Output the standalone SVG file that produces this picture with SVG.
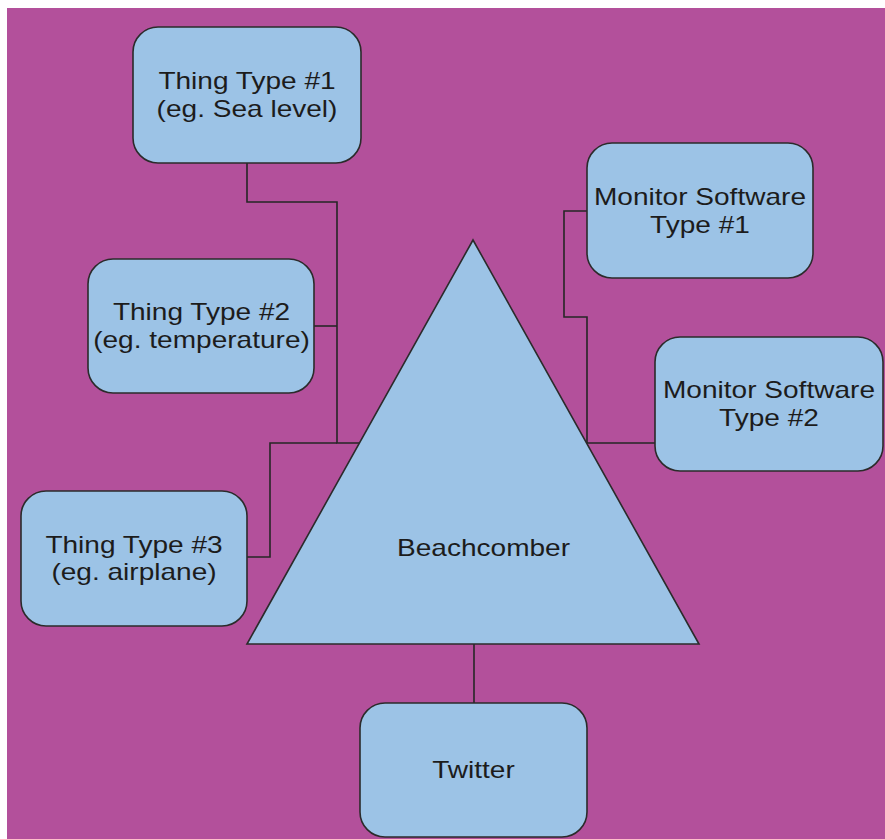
<svg xmlns="http://www.w3.org/2000/svg" width="885" height="839" viewBox="0 0 885 839">
  <style>
    .box { fill: #9cc3e6; stroke: #2b2b2b; stroke-width: 1.6; }
    .lbl { font-family: "Liberation Sans", Arial, sans-serif; font-size: 23px; fill: #1c1c1c; text-anchor: middle; }
    .conn { fill: none; stroke: #262626; stroke-width: 1.6; }
  </style>
  <rect x="0" y="0" width="885" height="839" fill="#ffffff"/>
  <rect x="7" y="8" width="878" height="831" fill="#b3509b"/>

  <g id="connectors">
    <polyline class="conn" points="247,163 247,202 337,202 337,443 360,443"/>
    <polyline class="conn" points="314,326 337,326"/>
    <polyline class="conn" points="247,557 270,557 270,443 337,443"/>
    <polyline class="conn" points="587,211 564,211 564,317 587,317 587,443 655,443"/>
    <polyline class="conn" points="474,644 474,703"/>
  </g>

  <g id="beachcomber">
    <polygon class="box" points="473,240 699,644 247,644"/>
    <text class="lbl" transform="translate(483.5,556) scale(1.22,1)" x="0" y="0">Beachcomber</text>
  </g>

  <g id="thing1">
    <rect class="box" x="133" y="27" width="228" height="136" rx="25" ry="25"/>
    <text class="lbl" transform="translate(247,89) scale(1.22,1)"><tspan x="0" y="0">Thing Type #1</tspan><tspan x="0" y="28">(eg. Sea level)</tspan></text>
  </g>

  <g id="thing2">
    <rect class="box" x="88" y="259" width="226" height="134" rx="25" ry="25"/>
    <text class="lbl" transform="translate(201.5,320) scale(1.22,1)"><tspan x="0" y="0">Thing Type #2</tspan><tspan x="0" y="28">(eg. temperature)</tspan></text>
  </g>

  <g id="thing3">
    <rect class="box" x="21" y="491" width="226" height="135" rx="25" ry="25"/>
    <text class="lbl" transform="translate(134,552.5) scale(1.22,1)"><tspan x="0" y="0">Thing Type #3</tspan><tspan x="0" y="28">(eg. airplane)</tspan></text>
  </g>

  <g id="monitor1">
    <rect class="box" x="587" y="143" width="226" height="135" rx="25" ry="25"/>
    <text class="lbl" transform="translate(700,205) scale(1.22,1)"><tspan x="0" y="0">Monitor Software</tspan><tspan x="0" y="28">Type #1</tspan></text>
  </g>

  <g id="monitor2">
    <rect class="box" x="655" y="337" width="228" height="134" rx="25" ry="25"/>
    <text class="lbl" transform="translate(769,398) scale(1.22,1)"><tspan x="0" y="0">Monitor Software</tspan><tspan x="0" y="28">Type #2</tspan></text>
  </g>

  <g id="twitter">
    <rect class="box" x="360" y="703" width="227" height="134" rx="25" ry="25"/>
    <text class="lbl" transform="translate(473.5,778) scale(1.22,1)" x="0" y="0">Twitter</text>
  </g>
</svg>
